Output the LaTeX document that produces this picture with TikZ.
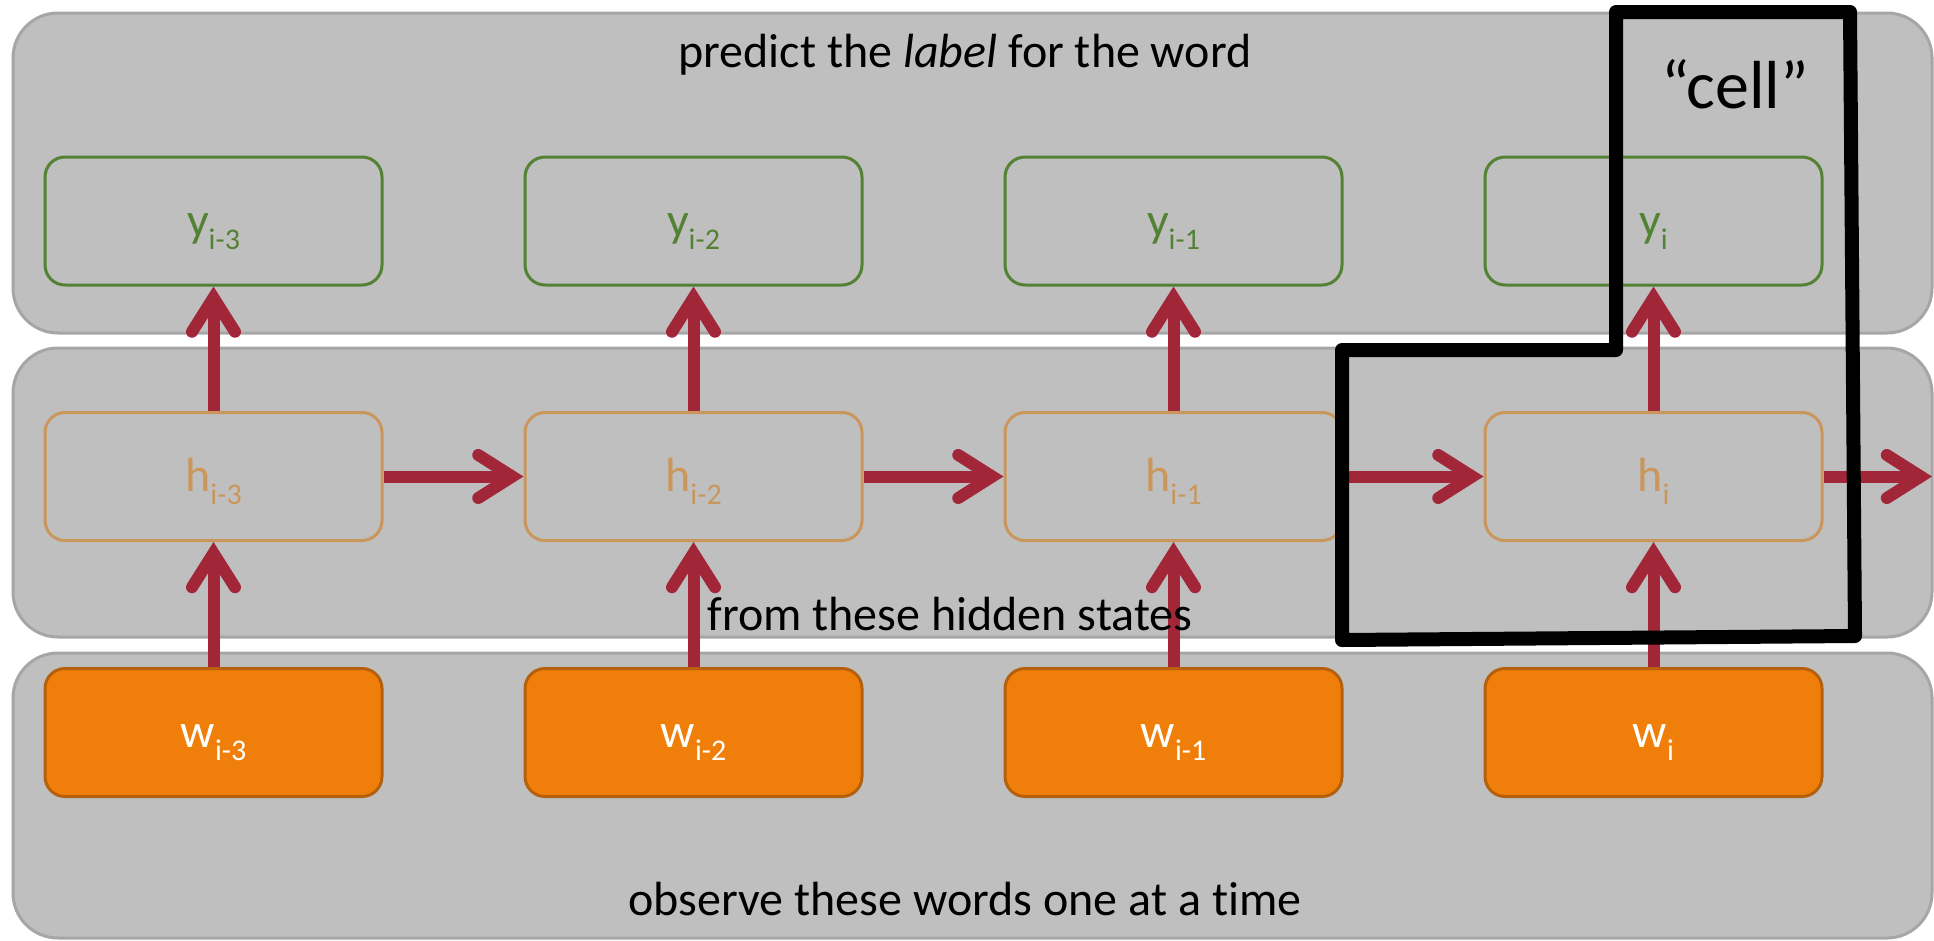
\documentclass[tikz,border=0pt]{standalone}
\usepackage{fontspec}
\setmainfont{Carlito}[Ligatures={NoCommon}]
\usetikzlibrary{arrows.meta}
\definecolor{panelgray}{HTML}{BFBFBF}
\definecolor{panelborder}{HTML}{A6A6A6}
\definecolor{ygreen}{HTML}{548235}
\definecolor{htan}{HTML}{C9975B}
\definecolor{worange}{HTML}{EF7F0A}
\definecolor{wborder}{HTML}{B5600B}
\definecolor{arrowred}{HTML}{A12638}
\newcommand\subs[1]{\raisebox{-13pt}{\fontsize{30}{30}\selectfont #1}}
\begin{document}
\begin{tikzpicture}[x=1pt,y=-1pt,
  panel/.style={draw=panelborder, line width=3pt, fill=panelgray, rounded corners=45pt, minimum width=1919pt, inner sep=0pt},
  box/.style={line width=3pt, rounded corners=20pt, minimum width=337pt, minimum height=128pt, inner sep=0pt, text height=30pt, text depth=0pt, font=\fontsize{48}{50}\selectfont},
  ybox/.style={box, draw=ygreen, text=ygreen},
  hbox/.style={box, draw=htan, text=htan},
  wbox/.style={box, draw=wborder, fill=worange, text=white},
  arr/.style={draw=arrowred, line width=12pt, -{Straight Barb[length=34pt,width=43pt,line cap=round,line join=miter]}},
  caption/.style={anchor=base, font=\fontsize{48}{50}\selectfont}
]
\useasboundingbox (0,0) rectangle (1934,940);
\node[panel, minimum height=320pt] (ptop) at (972.5,173) {};
\node[panel, minimum height=289pt] (pmid) at (972.5,492.5) {};
\node[panel, minimum height=285pt] (pbot) at (972.5,795.5) {};
\foreach \i/\x/\s in {1/213.5/i-3, 2/693.5/i-2, 3/1173.5/i-1, 4/1653.5/i} {
  \node[ybox] (y\i) at (\x,221) {y\subs{\s}};
  \node[hbox] (h\i) at (\x,476.5) {h\subs{\s}};
  \node[wbox] (w\i) at (\x,732.5) {w\subs{\s}};
}
\foreach \i in {1,...,4} {
  \draw[arr] (h\i.north) -- (y\i.south);
  \draw[arr] (w\i.north) -- (h\i.south);
}
\draw[arr] (h1.east) -- (h2.west);
\draw[arr] (h2.east) -- (h3.west);
\draw[arr] (h3.east) -- (h4.west);
\coordinate (hout) at (1932,476.5);
\draw[arr] (h4.east) -- (hout);
\node[caption] (tpredict) at (965,67) {predict the \textit{label} for the word};
\node[caption] (thidden) at (950,630) {from these hidden states};
\node[caption] (tobserve) at (965,915) {observe these words one at a time};
\draw[line width=14pt, line join=round] (1616,12) -- (1850,12) -- (1855,636) -- (1342,640) -- (1342,350) -- (1616,350) -- cycle;
\node[anchor=base, font=\fontsize{68}{70}\selectfont] (tcell) at (1735,108) {“cell”};
\end{tikzpicture}
\end{document}
